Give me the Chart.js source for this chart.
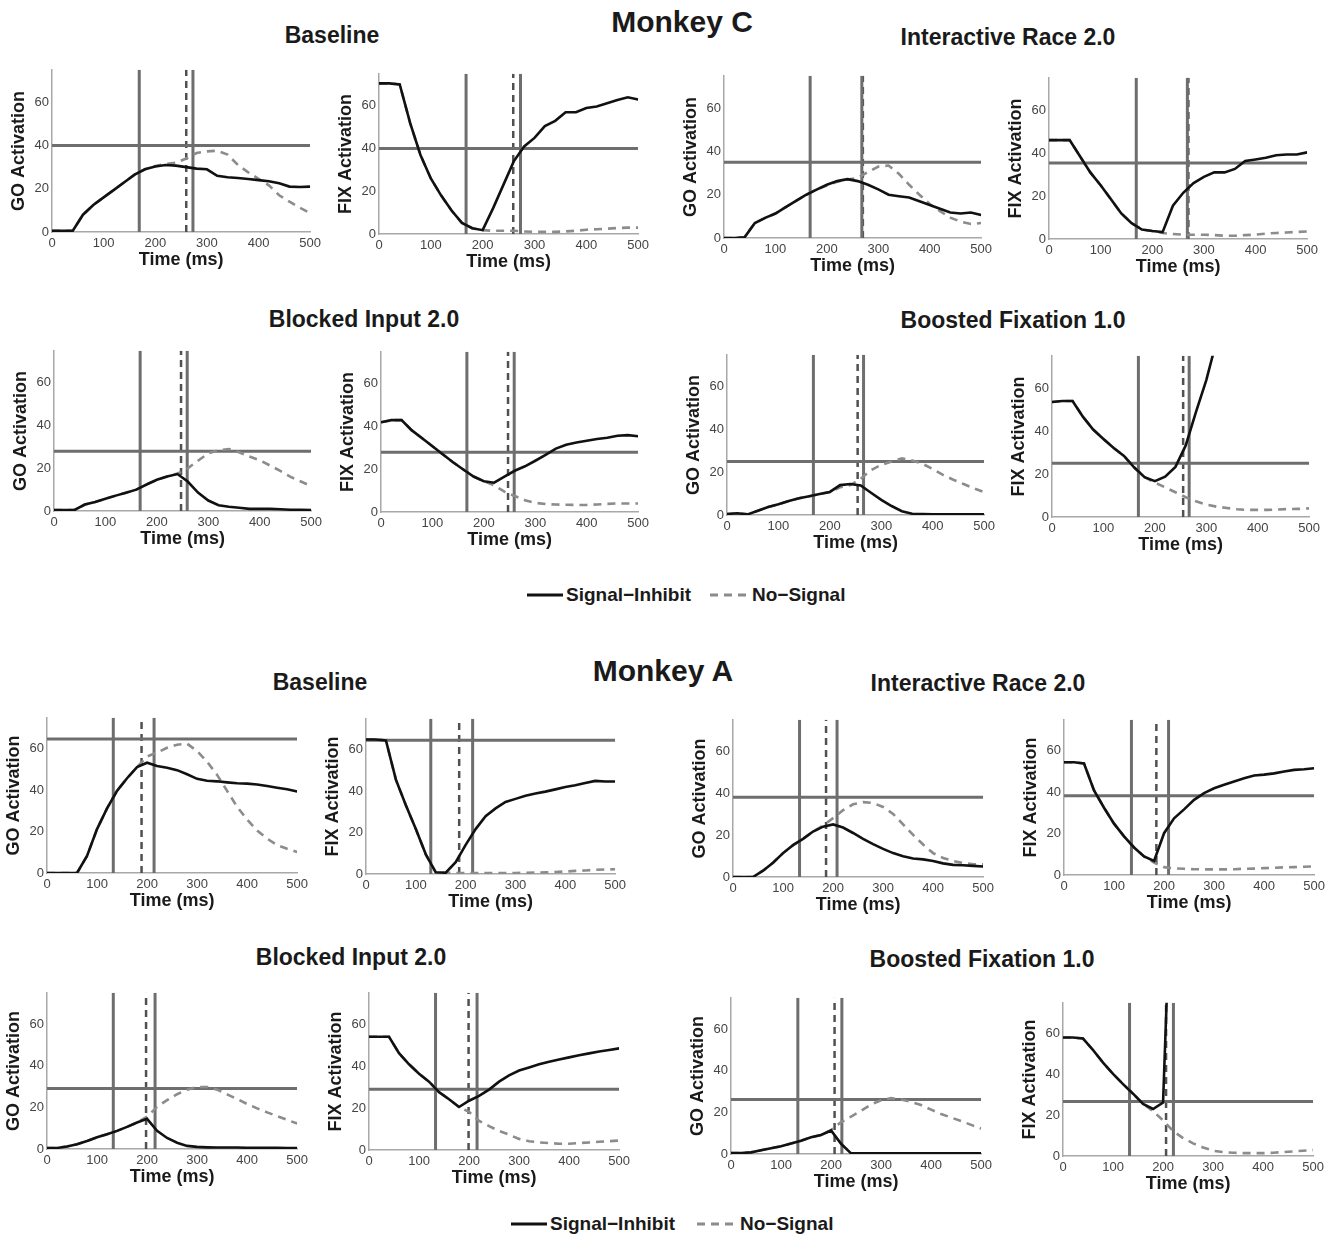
<!DOCTYPE html>
<html>
<head>
<meta charset="utf-8">
<script src="https://cdn.jsdelivr.net/npm/chart.js@4.4.0/dist/chart.umd.min.js"></script>
<style>
  body { margin: 0; background: #fff; width: 1337px; height: 1235px; position: relative; overflow: hidden;
         font-family: "Liberation Sans", Arial, sans-serif; }
  canvas { position: absolute; }
  .ttl { position: absolute; transform: translate(-50%, -50%); font-weight: bold; color: #1a1a1a; white-space: nowrap; }
  .leg { position: absolute; font-weight: bold; font-size: 19px; color: #1a1a1a; white-space: nowrap; transform: translateY(-50%); }
  svg { position: absolute; }
</style>
</head>
<body>

<div class="ttl" style="left:682px;top:22px;font-size:30px">Monkey C</div>
<div class="ttl" style="left:332px;top:35px;font-size:23px">Baseline</div>
<div class="ttl" style="left:1008px;top:37px;font-size:23px">Interactive Race 2.0</div>
<div class="ttl" style="left:364px;top:319px;font-size:23px">Blocked Input 2.0</div>
<div class="ttl" style="left:1013px;top:320px;font-size:23px">Boosted Fixation 1.0</div>

<div class="ttl" style="left:663px;top:671px;font-size:30px">Monkey A</div>
<div class="ttl" style="left:320px;top:682px;font-size:23px">Baseline</div>
<div class="ttl" style="left:978px;top:683px;font-size:23px">Interactive Race 2.0</div>
<div class="ttl" style="left:351px;top:957px;font-size:23px">Blocked Input 2.0</div>
<div class="ttl" style="left:982px;top:959px;font-size:23px">Boosted Fixation 1.0</div>

<svg style="left:526px;top:585px" width="40" height="20"><line x1="1" y1="10" x2="37" y2="10" stroke="#111" stroke-width="3"/></svg>
<div class="leg" style="left:566px;top:595px">Signal−Inhibit</div>
<svg style="left:709px;top:585px" width="42" height="20"><line x1="1" y1="10" x2="39" y2="10" stroke="#8c8c8c" stroke-width="3" stroke-dasharray="8,6"/></svg>
<div class="leg" style="left:752px;top:595px">No−Signal</div>

<svg style="left:510px;top:1214px" width="40" height="20"><line x1="1" y1="10" x2="37" y2="10" stroke="#111" stroke-width="3"/></svg>
<div class="leg" style="left:550px;top:1224px">Signal−Inhibit</div>
<svg style="left:696px;top:1214px" width="42" height="20"><line x1="1" y1="10" x2="39" y2="10" stroke="#8c8c8c" stroke-width="3" stroke-dasharray="8,6"/></svg>
<div class="leg" style="left:740px;top:1224px">No−Signal</div>

<script>
// time axis (ms) shared by every curve
const time = [0,20,40,60,80,100,120,140,160,180,200,220,240,260,280,300,320,340,360,380,400,420,440,460,480,500];
const xTicks = [0,100,200,300,400,500];
const yTicks = [0,20,40,60];
const yMax = 75;

// Monkey C
const cBaseGoSI  = [0.5,0.5,0.5,8,12.5,16,19.5,23,26.5,29,30.3,31,30.7,30,29.3,29,26,25.3,25,24.5,24,23.5,22.5,21,20.8,21];
const cBaseGoNS  = [0.5,0.5,0.5,8,12.5,16,19.5,23,26.5,29,30.5,31.5,32,34,36.5,37.3,37.6,35.8,31,27.6,24.6,21.6,17,14,11.2,8.7];
const cBaseFixSI = [70.5,70.5,70,52,37,26,18,11,5.2,2.7,1.8,12,23,34,41,45,50.5,53,57,57,59,59.7,61.2,62.7,64,63];
const cBaseFixNS = [70.5,70.5,70,52,37,26,18,11,5.2,2.7,1.8,1.5,1.5,1.5,1.2,1,1,1,1.2,1.5,2,2.2,2.5,2.8,3,3];
const cRaceGoSI  = [0,0,0.3,6.9,9.3,11.3,14.3,17.2,20,22.4,24.6,26.3,27.2,26.3,24.6,22.5,20,19.3,18.7,17,15.3,13.5,11.8,11.3,11.8,10.6];
const cRaceGoNS  = [0,0,0.3,6.9,9.3,11.3,14.3,17.2,20,22.4,24.3,26,27,27.8,30.5,33,33.5,29.7,24.6,20,15.7,12.4,9.4,7.6,6.5,6.9];
const cRaceFixSI = [46,46,46,38.5,31,25,18.5,11.9,7.4,4.4,3.7,3.2,15.5,21.5,26,28.9,31,31,32.6,36.3,37,37.8,39,39.3,39.3,40.3];
const cRaceFixNS = [46,46,46,38.5,31,25,18.5,11.9,7.4,4.4,3.7,2.8,2.3,2,2,2,1.8,1.5,1.5,1.8,2,2.5,2.8,3,3.3,3.5];
const cBlockGoSI  = [0.5,0.5,0.5,3,4.2,5.7,7.2,8.6,10,12.4,14.6,16.1,17.3,13.8,8.6,4.9,2.7,2,1.5,1,1,1,0.8,0.6,0.6,0.5];
const cBlockGoNS  = [0.5,0.5,0.5,3,4.2,5.7,7.2,8.6,10,12.4,14.6,16.1,17.5,20,23.5,27,28.5,29,27.5,25.5,23.8,21.3,18.8,16,13.8,11.6];
const cBlockFixSI = [42,43,43,38.2,34.5,30.8,27,23.3,19.9,16.6,14.4,13.7,16.6,19.3,21.4,24,26.7,29.7,31.5,32.5,33.4,34.2,34.8,35.7,36,35.5];
const cBlockFixNS = [42,43,43,38.2,34.5,30.8,27,23.3,19.9,16.6,14.4,12.5,9.5,7.5,5.5,4.3,3.7,3.5,3.4,3.3,3.3,3.5,3.8,4,4,4];
const cBoostGoSI  = [0.5,0.8,0.3,2,3.7,5,6.5,7.8,8.8,9.8,10.8,14,14.5,13.8,10.4,7.1,4.2,1.8,0.6,0.4,0.3,0.3,0.3,0.3,0.3,0.3];
const cBoostGoNS  = [0.5,0.8,0.3,2,3.7,5,6.5,7.8,8.8,9.8,10.8,13,14,17,21,23.5,25,26.5,25.5,24,21.5,18.8,16.5,14.5,12.5,10.7];
const cBoostFixSI = [53.5,54,54,46.7,40.7,36.3,32.1,28.4,23,18.5,16.7,18.8,23.3,33.3,48.9,63.7,82,null,null,null,null,null,null,null,null,null];
const cBoostFixNS = [53.5,54,54,46.7,40.7,36.3,32.1,28.4,23,18.5,16,13.8,11.5,9.2,7.3,5.8,4.8,4.2,3.6,3.3,3.3,3.3,3.5,3.7,3.8,4];

// Monkey A
const aBaseGoSI  = [0,0,0,0,8.2,21.2,31.2,39.7,45.8,51.2,53.3,51.7,50.9,49.7,47.7,45.5,44.6,44.3,43.8,43.4,43.2,42.8,42,41.2,40.5,39.4];
const aBaseGoNS  = [0,0,0,0,8.2,21.2,31.2,39.7,45.8,51.2,56.3,58.2,60.5,62,62.5,58.9,53.8,47.4,39.7,32,25.8,20.5,16.6,13.5,11.7,10.2];
const aBaseFixSI = [65,65,64.5,45.6,33.2,21.7,9.5,0.8,0.6,5.7,14.1,21.7,27.9,31.7,34.8,36.3,37.8,38.9,39.8,40.9,42,42.9,44,45,44.7,44.7];
const aBaseFixNS = [65,65,64.5,45.6,33.2,21.7,9.5,0.8,0.6,0.5,0.5,0.5,0.5,0.5,0.5,0.5,0.6,0.7,0.8,1,1.2,1.5,1.7,2,2.2,2.3];
const aRaceGoSI  = [0,0,0,3,6.8,11.4,15.2,18.2,21.7,24,25.1,23.6,21,18.2,15.7,13.4,11.4,9.9,8.8,8.4,7.6,6.5,5.8,5.6,5.3,5];
const aRaceGoNS  = [0,0,0,3,6.8,11.4,15.2,18.2,21.7,24.5,28.1,31.9,34.7,35.7,35.3,33.4,30.1,25.1,20.1,15.5,11.4,9.1,7.6,6.7,6.1,6];
const aRaceFixSI = [54.5,54.5,53.9,40.9,32.5,24.8,18.7,13.3,9,6.8,20.2,27.4,31.7,36.3,39.6,41.9,43.6,45.2,46.7,48.1,48.5,49.1,50,50.8,51.1,51.6];
const aRaceFixNS = [54.5,54.5,53.9,40.9,32.5,24.8,18.7,13.3,9,6,3.8,3.2,3,2.8,2.7,2.7,2.7,2.8,3,3.1,3.3,3.5,3.7,3.8,4,4.2];
const aBlockGoSI  = [0.5,0.5,1.2,2.3,3.8,5.6,7.1,8.7,10.6,12.7,14.5,8.7,5.3,3,1.5,1,0.8,0.7,0.7,0.7,0.6,0.6,0.6,0.6,0.5,0.5];
const aBlockGoNS  = [0.5,0.5,1.2,2.3,3.8,5.6,7.1,8.7,10.6,12.7,15.5,20.2,23.5,26.3,28.5,29.8,29.8,28.5,26.2,24,21.6,19.5,17.6,15.8,14,12.2];
const aBlockFixSI = [54,54,54,46.2,40.9,36.4,32.6,27.6,24.2,20.5,23.5,25.8,28.8,32.6,35.6,37.9,39.4,40.9,42.1,43.2,44.2,45.2,46.1,47,47.7,48.5];
const aBlockFixNS = [54,54,54,46.2,40.9,36.4,32.6,27.6,24.2,20.5,18.2,13.9,11.4,9.1,7.3,5.3,4.2,3.6,3.3,3,3,3.3,3.6,3.9,4.2,4.5];
const aBoostGoSI  = [0.5,0.5,0.8,1.8,2.8,3.7,5,6.4,8,9.1,11.3,4.9,0.3,0.3,0.3,0.3,0.3,0.3,0.3,0.3,0.3,0.3,0.3,0.3,0.3,0.3];
const aBoostGoNS  = [0.5,0.5,0.8,1.8,2.8,3.7,5,6.4,8,9.1,11.5,15.3,18,20.8,23.8,25.8,26.8,26.2,25,23.5,21.3,19.2,17.5,15.8,14,12.2];
const aBoostFixSI = [58,58,57.5,51.9,45.7,40.2,35.2,30.5,25.5,23,26.2,165,null,null,null,null,null,null,null,null,null,null,null,null,null,null];
const aBoostFixNS = [58,58,57.5,51.9,45.7,40.2,35.2,30.5,25.5,22,17.4,12.2,8.8,6.2,4.2,2.6,1.9,1.6,1.4,1.4,1.4,1.6,1.9,2.2,2.6,2.9];

// one entry per panel, reading order (left to right, top to bottom)
const siSeries = [cBaseGoSI, cBaseFixSI, cRaceGoSI, cRaceFixSI, cBlockGoSI, cBlockFixSI, cBoostGoSI, cBoostFixSI,
                  aBaseGoSI, aBaseFixSI, aRaceGoSI, aRaceFixSI, aBlockGoSI, aBlockFixSI, aBoostGoSI, aBoostFixSI];
const nsSeries = [cBaseGoNS, cBaseFixNS, cRaceGoNS, cRaceFixNS, cBlockGoNS, cBlockFixNS, cBoostGoNS, cBoostFixNS,
                  aBaseGoNS, aBaseFixNS, aRaceGoNS, aRaceFixNS, aBlockGoNS, aBlockFixNS, aBoostGoNS, aBoostFixNS];
const yLabels = ['GO Activation', 'FIX Activation'];
const ssdMark    = [169,168,167.5,169, 167.5,167,168,168, 132.5,130,133,134.8, 132.5,133,133.6,133];
const ssrtMark   = [273,273,268,268, 259,259,265.5,266.7, 214,214,208,209, 216,216,221.6,220.7];
const dashedMark = [260,259,270,270, 247,247,254,255, 189,187,186,184.6, 198,199,207,206];
const threshold  = [40,40,35,35.4, 28,28,25,25, 64.7,64.6,38,38.3, 29,29,26.2,26.7];

// plot areas on the page: left, top, right, bottom
const boxes = [
  [51.5,62,310.6,231.5], [378.8,65.8,638.9,233.3], [723.9,67.8,981.7,237.3], [1048.6,69.5,1307.7,238.3],
  [53.9,343.1,311.4,511], [380.9,344.1,638.9,512.3], [726.9,346.6,984.7,515], [1051.6,347.9,1309.8,516.7],
  [47.1,710.2,298,872.7], [366.2,710.6,616.6,874], [732.5,712.1,983.8,876.7], [1064,712.3,1315,875.7],
  [47.1,984.6,298,1148.3], [368.7,984.6,619.5,1150], [731.2,989.8,981.7,1154], [1062.7,994.5,1313.3,1155.7]
];

const YW = 44, XH = 39, PT = 3, PR = 14;
const fam = '"Liberation Sans", Arial, sans-serif';

function vLine(x, color, width, dash) {
  return { data: [{x: x, y: 0}, {x: x, y: yMax}], borderColor: color, borderWidth: width, borderDash: dash, pointRadius: 0 };
}

function drawPanel(i) {
  const [L, T, R, B] = boxes[i];
  const canvas = document.createElement('canvas');
  canvas.width = Math.round(R - L) + YW + PR;
  canvas.height = Math.round(B - T) + PT + XH;
  canvas.style.left = Math.round(L - YW) + 'px';
  canvas.style.top = Math.round(T - PT) + 'px';
  document.body.appendChild(canvas);

  const si = siSeries[i], ns = nsSeries[i];

  new Chart(canvas.getContext('2d'), {
    type: 'line',
    data: {
      datasets: [
        { data: time.map((t, k) => ({x: t, y: si[k]})), borderColor: '#111', borderWidth: 2.6, pointRadius: 0 },
        { data: time.map((t, k) => ({x: t, y: ns[k]})), borderColor: '#8c8c8c', borderWidth: 2.6, borderDash: [8, 6], pointRadius: 0 },
        { data: [{x: 0, y: threshold[i]}, {x: 500, y: threshold[i]}], borderColor: '#6e6e6e', borderWidth: 3, pointRadius: 0 },
        vLine(ssdMark[i], '#6e6e6e', 3, []),
        vLine(ssrtMark[i], '#6e6e6e', 3, []),
        vLine(dashedMark[i], '#505050', 2.5, [7, 5])
      ]
    },
    options: {
      responsive: false,
      animation: false,
      devicePixelRatio: 1,
      layout: { autoPadding: false, padding: { top: PT, right: PR, left: 0, bottom: 0 } },
      plugins: { legend: { display: false }, tooltip: { enabled: false } },
      scales: {
        x: {
          type: 'linear', min: 0, max: 500,
          afterBuildTicks: s => { s.ticks = xTicks.map(v => ({value: v})); },
          afterFit: s => { s.height = XH; },
          grid: { display: false, drawTicks: false },
          border: { display: true, color: '#a8a8a8', width: 1.5 },
          ticks: { color: '#444', padding: 4, maxRotation: 0, font: { family: fam, size: 13 } },
          title: { display: true, text: 'Time (ms)', color: '#1a1a1a', padding: 0,
                   font: { family: fam, size: 18, weight: 'bold' } }
        },
        y: {
          min: 0, max: yMax,
          afterBuildTicks: s => { s.ticks = yTicks.map(v => ({value: v})); },
          afterFit: s => { s.width = YW; },
          grid: { display: false, drawTicks: false },
          border: { display: true, color: '#a8a8a8', width: 1.5 },
          ticks: { color: '#444', padding: 3, font: { family: fam, size: 13 } },
          title: { display: true, text: yLabels[i % 2], color: '#1a1a1a', padding: 0,
                   font: { family: fam, size: 18, weight: 'bold' } }
        }
      }
    }
  });
}

for (let i = 0; i < boxes.length; i++) drawPanel(i);
</script>
</body>
</html>
